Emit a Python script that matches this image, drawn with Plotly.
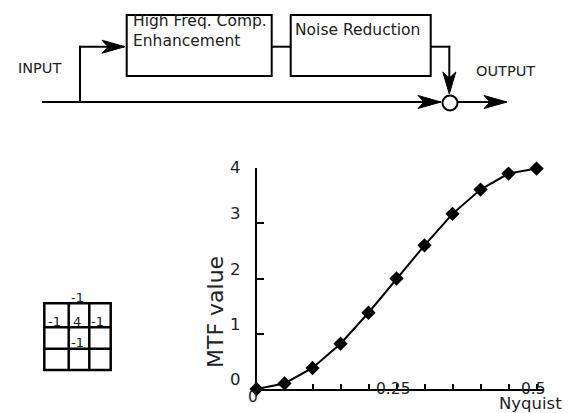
import plotly.graph_objects as go

# ---------------- data ----------------
freq = [0.0, 0.05, 0.10, 0.15, 0.20, 0.25, 0.30, 0.35, 0.40, 0.45, 0.50]
mtf = [0.0, 0.10, 0.38, 0.82, 1.38, 2.0, 2.60, 3.17, 3.61, 3.90, 3.99]
x_tick_vals = [0.05, 0.10, 0.15, 0.20, 0.25, 0.30, 0.35, 0.40, 0.45, 0.50]
x_label_vals = [0, 0.25, 0.5]
x_label_text = ["0", "0.25", "0.5"]
y_tick_vals = [0, 1, 2, 3, 4]
y_tick_text = ["0", "1", "2", "3", "4"]
kernel = [[0, -1, 0], [-1, 4, -1], [0, -1, 0]]
block_labels = [["High Freq. Comp.", "Enhancement"], ["Noise Reduction"]]
io_labels = ["INPUT", "OUTPUT"]
x_axis_name = "Nyquist"
y_axis_name = "MTF value"

# ---------------- layout helpers ----------------
W, H = 571, 413
FONT = "DejaVu Sans"
TXT = "#222222"


def px(x):
    return x / W


def py(y):
    return 1 - y / H


shapes = []
annotations = []


def line(x0, y0, x1, y1, w=2):
    shapes.append(dict(type="line", xref="paper", yref="paper",
                       x0=px(x0), y0=py(y0), x1=px(x1), y1=py(y1),
                       line=dict(color="black", width=w)))


def rect(x0, y0, x1, y1, w=2):
    shapes.append(dict(type="rect", xref="paper", yref="paper",
                       x0=px(x0), y0=py(y0), x1=px(x1), y1=py(y1),
                       line=dict(color="black", width=w), fillcolor="rgba(0,0,0,0)"))


def arrow_head(tx, ty, direction, length=23, half=6.5, notch=6):
    pts = []
    if direction == "right":
        pts = [(tx, ty), (tx - length, ty - half), (tx - length + notch, ty), (tx - length, ty + half)]
    elif direction == "down":
        pts = [(tx, ty), (tx - half, ty - length), (tx, ty - length + notch), (tx + half, ty - length)]
    path = "M " + " L ".join(f"{px(a)},{py(b)}" for a, b in pts) + " Z"
    shapes.append(dict(type="path", xref="paper", yref="paper", path=path,
                       fillcolor="black", line=dict(color="black", width=1)))


def text(x, y, s, size, xanchor="left", yanchor="middle", angle=0):
    annotations.append(dict(xref="paper", yref="paper", x=px(x), y=py(y), text=s,
                            showarrow=False, xanchor=xanchor, yanchor=yanchor,
                            textangle=angle,
                            font=dict(family=FONT, size=size, color=TXT)))


# ---------------- block diagram ----------------
main_y = 102
line(42, main_y, 441, main_y)
arrow_head(441, main_y, "right")
shapes.append(dict(type="circle", xref="paper", yref="paper",
                   x0=px(450 - 7.5), x1=px(450 + 7.5), y0=py(103 - 7.5), y1=py(103 + 7.5),
                   line=dict(color="black", width=2), fillcolor="white"))
line(458, main_y, 506, main_y)
arrow_head(507, main_y, "right")

branch_y = 46.7
line(80, main_y + 1, 80, branch_y - 1)
line(79, branch_y, 124, branch_y)
arrow_head(125, branch_y, "right")

rect(126.7, 15, 271.7, 76)
rect(290.7, 15, 430.7, 76)
line(271.7, branch_y, 290.7, branch_y)
line(430.7, branch_y, 450.3, branch_y)
line(449.3, branch_y - 1, 449.3, 80)
arrow_head(449.3, 94, "down", length=22)

text(131, 21.5, block_labels[0][0], 15.5)
text(131, 40.5, block_labels[0][1], 15.5)
text(293, 30.5, block_labels[1][0], 15.5)
text(16, 67.5, io_labels[0], 14.5)
text(474, 70.5, io_labels[1], 14.5)

# ---------------- kernel grid ----------------
gx = [44.3, 68.7, 89.3, 110.7]
gy = [303.3, 327.3, 348.7, 370]
for xv in gx:
    line(xv, gy[0] - 1, xv, gy[-1] + 1, w=2.5)
for yv in gy:
    line(gx[0] - 1, yv, gx[-1] + 1, yv, w=2.5)
for r, row in enumerate(kernel):
    for c, v in enumerate(row):
        if v != 0:
            cx = (gx[c] + gx[c + 1]) / 2 - 2
            text(cx, gy[r] - 6, str(v), 13, xanchor="center")

# ---------------- MTF chart ----------------
x0_px, x_end_px = 256.5, 543.5
x_half_px = 536.5
y0_px, y4_px = 389, 168
x_range_max = 0.5 * (x_end_px - x0_px) / (x_half_px - x0_px)

fig = go.Figure()
fig.add_trace(go.Scatter(
    x=freq, y=mtf, mode="lines+markers",
    line=dict(color="black", width=2),
    marker=dict(symbol="diamond", size=11, color="black"),
    cliponaxis=False, hoverinfo="skip"))

for v, t in zip(y_tick_vals, y_tick_text):
    annotations.append(dict(xref="x", yref="y", x=0, y=v, text=t, showarrow=False,
                            xanchor="right", yanchor="middle", xshift=-14,
                            yshift=9.5 if v < max(y_tick_vals) else 1,
                            font=dict(family=FONT, size=16.5, color=TXT)))
for v, t in zip(x_label_vals, x_label_text):
    annotations.append(dict(xref="x", yref="y", x=v, y=0, text=t, showarrow=False,
                            xanchor="center", yanchor="middle",
                            xshift=-3.5,
                            yshift=0 if v > 0 else -8,
                            font=dict(family=FONT, size=15.5, color=TXT)))
annotations.append(dict(xref="paper", yref="paper", x=px(564), y=py(403.5), text=x_axis_name,
                        showarrow=False, xanchor="right", yanchor="middle",
                        font=dict(family=FONT, size=16.5, color=TXT)))
annotations.append(dict(xref="paper", yref="paper", x=px(215), y=py(312), text=y_axis_name,
                        showarrow=False, xanchor="center", yanchor="middle", textangle=-90,
                        font=dict(family=FONT, size=22, color=TXT)))

fig.update_layout(
    width=W, height=H,
    margin=dict(l=0, r=0, t=0, b=0),
    paper_bgcolor="white", plot_bgcolor="white",
    showlegend=False,
    xaxis=dict(domain=[px(x0_px), px(x_end_px)], range=[0, x_range_max],
               showgrid=False, zeroline=False, showline=True, linecolor="black", linewidth=2,
               ticks="inside", ticklen=5, tickwidth=2, tickcolor="black",
               tickvals=x_tick_vals, showticklabels=False, fixedrange=True),
    yaxis=dict(domain=[1 - y0_px / H, 1 - y4_px / H], range=[0, 4],
               showgrid=False, zeroline=False, showline=True, linecolor="black", linewidth=2,
               ticks="inside", ticklen=7, tickwidth=2, tickcolor="black",
               tickvals=y_tick_vals, showticklabels=False, fixedrange=True),
    shapes=shapes,
    annotations=annotations,
)

fig.write_html("out.html", config={"displayModeBar": False},
               post_script="document.body.style.margin='0px';document.body.style.overflow='hidden';")
